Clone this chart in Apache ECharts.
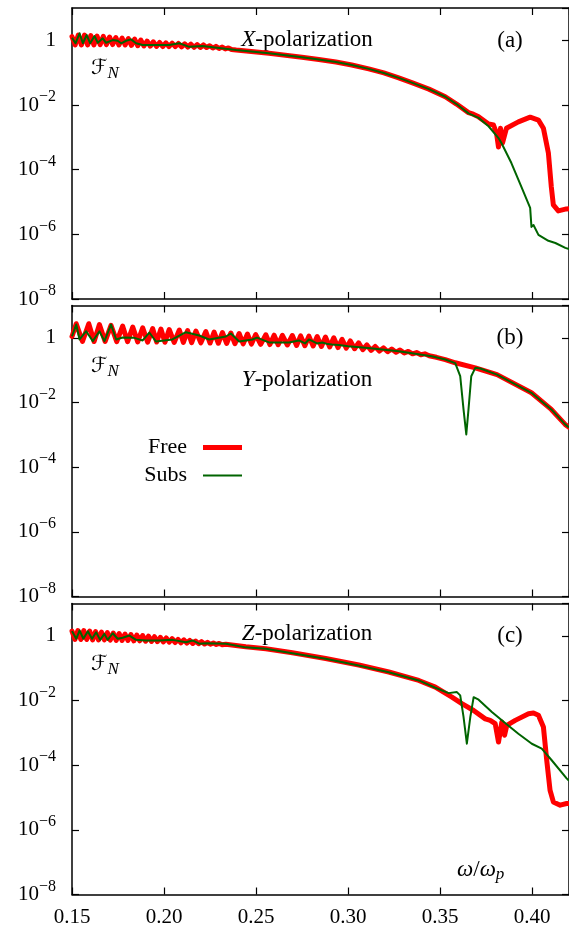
<!DOCTYPE html>
<html><head><meta charset="utf-8">
<script src="https://cdn.jsdelivr.net/npm/echarts@6.0.0/dist/echarts.min.js"></script>
<style>html,body{margin:0;padding:0;background:#fff}#c{width:569px;height:928px}</style>
</head><body><div id="c"></div>
<script>
// ---- tick labels ----
const xTickValues = [0.15, 0.20, 0.25, 0.30, 0.35, 0.40];
const xTickLabels = ['0.15', '0.20', '0.25', '0.30', '0.35', '0.40'];
const yTickValues = [1e-8, 1e-6, 1e-4, 1e-2, 1];
const yTickLabels = ['10^−8', '10^−6', '10^−4', '10^−2', '1'];
const seriesNames = ['Free', 'Subs'];
const panelLetters = ['X', 'Y', 'Z'];
const panelTags = ['(a)', '(b)', '(c)'];

// ---- panel (a) X-polarization ----
const freeA = [[0.1500,1.30],[0.1517,0.72],[0.1534,1.46],[0.1551,0.72],[0.1568,1.46],[0.1585,0.72],[0.1602,1.40],[0.1619,0.72],[0.1636,1.36],[0.1653,0.74],[0.1670,1.33],[0.1687,0.74],[0.1704,1.27],[0.1721,0.74],[0.1738,1.22],[0.1755,0.72],[0.1772,1.18],[0.1789,0.72],[0.1806,1.14],[0.1823,0.70],[0.1840,1.10],[0.1857,0.68],[0.1874,1.02],[0.1891,0.67],[0.1908,0.95],[0.1925,0.66],[0.1942,0.90],[0.1959,0.65],[0.1976,0.86],[0.1993,0.64],[0.2010,0.84],[0.2027,0.64],[0.2044,0.82],[0.2061,0.64],[0.2078,0.80],[0.2095,0.63],[0.2112,0.78],[0.2129,0.62],[0.2146,0.76],[0.2163,0.61],[0.2180,0.74],[0.2197,0.60],[0.2214,0.72],[0.2231,0.60],[0.2248,0.68],[0.2265,0.58],[0.2282,0.65],[0.2299,0.56],[0.2316,0.62],[0.2333,0.54],[0.2350,0.58],[0.2367,0.52],[0.2392,0.50],[0.2570,0.40],[0.2749,0.30],[0.2841,0.255],[0.2934,0.213],[0.3020,0.172],[0.3112,0.131],[0.3194,0.098],[0.3275,0.069],[0.3346,0.049],[0.3439,0.031],[0.3528,0.018],[0.3589,0.0107],[0.3654,0.0058],[0.3680,0.0052],[0.3709,0.0043],[0.3763,0.0026],[0.3790,0.0024],[0.3806,0.00136],[0.3817,0.0005],[0.3828,0.0019],[0.3839,0.00067],[0.3860,0.0019],[0.3925,0.0030],[0.3989,0.0042],[0.4034,0.0034],[0.4061,0.0019],[0.4088,3.3e-4],[0.4104,2.9e-5],[0.4115,8.1e-6],[0.4142,5.3e-6],[0.4186,6.1e-6],[0.4200,6.2e-6]];
const subsA = [[0.1500,1.20],[0.1519,0.81],[0.1541,1.65],[0.1559,0.81],[0.1580,1.46],[0.1599,0.81],[0.1622,1.36],[0.1640,0.84],[0.1667,1.15],[0.1685,0.84],[0.1721,1.02],[0.1748,0.97],[0.1767,0.81],[0.1794,0.97],[0.1821,1.07],[0.1848,0.81],[0.1884,0.72],[0.1956,0.72],[0.2028,0.72],[0.2083,0.81],[0.2137,0.63],[0.2207,0.67],[0.2392,0.50],[0.2570,0.40],[0.2749,0.30],[0.2841,0.255],[0.2934,0.213],[0.3020,0.172],[0.3112,0.131],[0.3194,0.098],[0.3275,0.069],[0.3346,0.049],[0.3439,0.031],[0.3528,0.018],[0.3589,0.0107],[0.3654,0.0055],[0.3709,0.0040],[0.3763,0.0022],[0.3817,9.5e-4],[0.3833,6.7e-4],[0.3887,1.6e-4],[0.3942,2.9e-5],[0.3989,6.6e-6],[0.3996,1.7e-6],[0.4007,1.95e-6],[0.4034,9.6e-7],[0.4088,6.3e-7],[0.4126,5.4e-7],[0.4180,3.8e-7],[0.4200,3.5e-7]];

// ---- panel (b) Y-polarization ----
const freeB = [[0.1500,1.10],[0.1523,2.73],[0.1557,0.77],[0.1591,2.73],[0.1620,0.77],[0.1649,2.58],[0.1680,0.77],[0.1712,2.43],[0.1743,0.76],[0.1775,2.32],[0.1802,0.76],[0.1830,2.16],[0.1857,0.75],[0.1884,2.05],[0.1911,0.74],[0.1938,1.94],[0.1960,0.74],[0.1983,1.87],[0.2005,0.73],[0.2028,1.81],[0.2055,0.72],[0.2083,1.74],[0.2105,0.72],[0.2128,1.68],[0.2150,0.71],[0.2173,1.62],[0.2200,0.70],[0.2227,1.57],[0.2250,0.69],[0.2272,1.51],[0.2295,0.68],[0.2317,1.46],[0.2340,0.67],[0.2363,1.41],[0.2385,0.66],[0.2408,1.36],[0.2430,0.65],[0.2453,1.31],[0.2475,0.64],[0.2498,1.26],[0.2525,0.63],[0.2553,1.24],[0.2575,0.62],[0.2598,1.21],[0.2620,0.61],[0.2643,1.19],[0.2670,0.60],[0.2697,1.18],[0.2720,0.58],[0.2742,1.15],[0.2765,0.57],[0.2787,1.13],[0.2810,0.56],[0.2832,1.10],[0.2855,0.54],[0.2877,1.06],[0.2900,0.52],[0.2922,1.00],[0.2945,0.50],[0.2967,0.90],[0.2990,0.48],[0.3012,0.80],[0.3035,0.46],[0.3057,0.70],[0.3080,0.43],[0.3102,0.60],[0.3125,0.41],[0.3147,0.54],[0.3170,0.39],[0.3192,0.49],[0.3215,0.37],[0.3237,0.45],[0.3260,0.36],[0.3282,0.42],[0.3305,0.34],[0.3327,0.38],[0.3350,0.32],[0.3372,0.35],[0.3395,0.30],[0.3417,0.32],[0.3440,0.28],[0.3480,0.25],[0.3528,0.213],[0.3582,0.169],[0.3691,0.118],[0.3809,0.073],[0.3996,0.020],[0.4104,0.0061],[0.4179,0.0021],[0.4200,0.0017]];
const subsB = [[0.1500,1.12],[0.1523,2.58],[0.1541,0.89],[0.1577,1.60],[0.1613,0.79],[0.1649,1.60],[0.1676,0.79],[0.1712,2.58],[0.1740,0.89],[0.1775,1.02],[0.1839,1.00],[0.1884,0.83],[0.1920,1.46],[0.1956,0.77],[0.2045,0.89],[0.2119,1.49],[0.2191,1.18],[0.2245,0.89],[0.2336,1.10],[0.2363,1.36],[0.2408,0.77],[0.2480,0.89],[0.2505,1.02],[0.2570,0.72],[0.2679,0.72],[0.2733,0.83],[0.2766,0.67],[0.2787,0.89],[0.2831,0.67],[0.2860,0.72],[0.2890,0.64],[0.2912,0.62],[0.2950,0.60],[0.3000,0.55],[0.3095,0.49],[0.3275,0.385],[0.3454,0.27],[0.3528,0.213],[0.3582,0.165],[0.3609,0.065],[0.3627,0.0061],[0.3642,0.00103],[0.3654,0.0061],[0.3669,0.065],[0.3691,0.118],[0.3718,0.113],[0.3809,0.073],[0.3996,0.020],[0.4104,0.0061],[0.4179,0.0021],[0.4200,0.0017]];

// ---- panel (c) Z-polarization ----
const freeC = [[0.1500,1.40],[0.1516,0.77],[0.1532,1.46],[0.1548,0.77],[0.1564,1.46],[0.1580,0.77],[0.1596,1.40],[0.1612,0.75],[0.1628,1.36],[0.1644,0.75],[0.1660,1.30],[0.1676,0.75],[0.1692,1.26],[0.1708,0.74],[0.1724,1.22],[0.1740,0.72],[0.1756,1.18],[0.1772,0.72],[0.1788,1.14],[0.1804,0.72],[0.1820,1.10],[0.1836,0.70],[0.1852,1.06],[0.1868,0.70],[0.1884,1.02],[0.1900,0.68],[0.1916,0.98],[0.1932,0.67],[0.1948,0.94],[0.1964,0.66],[0.1980,0.90],[0.1996,0.65],[0.2012,0.86],[0.2028,0.64],[0.2044,0.82],[0.2060,0.62],[0.2076,0.78],[0.2092,0.61],[0.2108,0.75],[0.2124,0.60],[0.2140,0.72],[0.2156,0.58],[0.2172,0.69],[0.2188,0.57],[0.2204,0.66],[0.2220,0.56],[0.2236,0.63],[0.2252,0.55],[0.2268,0.60],[0.2284,0.54],[0.2300,0.58],[0.2316,0.53],[0.2336,0.55],[0.2444,0.46],[0.2553,0.40],[0.2697,0.30],[0.2878,0.20],[0.3058,0.125],[0.3221,0.076],[0.3384,0.0417],[0.3474,0.0259],[0.3564,0.0127],[0.3618,0.0080],[0.3682,0.0049],[0.3745,0.0027],[0.3772,0.00243],[0.3799,0.00192],[0.3817,5.2e-4],[0.3835,0.00215],[0.3850,8.4e-4],[0.3862,0.0017],[0.3908,0.00243],[0.3980,0.0039],[0.4007,0.0041],[0.4034,0.0035],[0.4061,0.00151],[0.4079,1.42e-4],[0.4097,1.68e-5],[0.4115,7.3e-6],[0.4152,5.8e-6],[0.4187,6.5e-6],[0.4200,6.5e-6]];
const subsC = [[0.1500,1.40],[0.1523,0.81],[0.1541,1.46],[0.1562,0.81],[0.1586,1.39],[0.1609,0.81],[0.1631,1.29],[0.1653,0.75],[0.1676,1.15],[0.1694,0.75],[0.1721,1.20],[0.1748,0.81],[0.1775,0.87],[0.1812,1.02],[0.1848,0.75],[0.1902,0.72],[0.1974,0.72],[0.2046,0.75],[0.2119,0.63],[0.2155,0.72],[0.2191,0.57],[0.2227,0.59],[0.2336,0.57],[0.2444,0.44],[0.2553,0.40],[0.2697,0.29],[0.2878,0.195],[0.3058,0.121],[0.3221,0.075],[0.3384,0.0417],[0.3474,0.0248],[0.3546,0.0169],[0.3591,0.0182],[0.3609,0.0144],[0.3627,0.0031],[0.3645,4.6e-4],[0.3650,4.3e-4],[0.3664,0.0031],[0.3682,0.0127],[0.3709,0.0106],[0.3781,0.0044],[0.3853,0.0020],[0.3925,9.4e-4],[0.3998,4.6e-4],[0.4052,3.25e-4],[0.4106,1.42e-4],[0.4187,3.9e-5],[0.4200,3.3e-5]];

// ---- layout / styles ----
const FONT = '"Liberation Serif", "DejaVu Serif", serif';
const FS = 21;
const gridTops = [8, 305.5, 603.5];
const GH = 291, GL = 72, GW = 497;
const panelData = [[freeA, subsA], [freeB, subsB], [freeC, subsC]];

function xLabel(v) {
  const k = xTickValues.findIndex(t => Math.abs(t - v) < 1e-6);
  return k < 0 ? '' : xTickLabels[k];
}
function yLabel(v) {
  const k = yTickValues.findIndex(t => Math.abs(Math.log10(t) - Math.log10(v)) < 0.01);
  if (k < 0) return '';
  const s = yTickLabels[k];
  if (s.indexOf('^') < 0) return '{b|' + s + '}';
  const parts = s.split('^');
  return '{b|' + parts[0] + '}{s|' + parts[1] + '}';
}
const axLine = { show: true, onZero: false, lineStyle: { color: '#000', width: 1.5 } };
const axTick = { show: true, inside: true, length: 7, lineStyle: { color: '#000', width: 1.2 } };

const grid = [], xAxis = [], yAxis = [], series = [];
gridTops.forEach((t, i) => {
  grid.push({ left: GL, top: t, width: GW, height: GH });
  ['bottom', 'top'].forEach(pos => {
    xAxis.push({
      type: 'value', gridIndex: i, position: pos, min: 0.15, max: 0.42, interval: 0.05,
      axisLine: axLine, axisTick: axTick, splitLine: { show: false },
      axisLabel: {
        show: pos === 'bottom' && i === 2, margin: 12, color: '#000', fontFamily: FONT, fontSize: FS,
        showMaxLabel: false, formatter: xLabel
      }
    });
  });
  ['left', 'right'].forEach(pos => {
    yAxis.push({
      type: 'log', logBase: 10, gridIndex: i, position: pos, min: 1e-8, max: 10, interval: 2,
      axisLine: axLine, axisTick: axTick, splitLine: { show: false },
      axisLabel: {
        show: pos === 'left', margin: 16, showMaxLabel: false, formatter: yLabel,
        rich: {
          b: { fontFamily: FONT, fontSize: FS, lineHeight: 22, color: '#000' },
          s: { fontFamily: FONT, fontSize: 16, lineHeight: 16, padding: [0, 0, 16, 0], color: '#000' }
        }
      }
    });
  });
  const d = panelData[i];
  series.push({
    name: seriesNames[0], type: 'line', xAxisIndex: 2 * i, yAxisIndex: 2 * i, data: d[0],
    symbol: 'none', showSymbol: false, z: 2, clip: true,
    itemStyle: { color: '#ff0000' },
    lineStyle: { color: '#ff0000', width: 5, join: 'round', cap: 'round' }
  });
  series.push({
    name: seriesNames[1], type: 'line', xAxisIndex: 2 * i, yAxisIndex: 2 * i, data: d[1],
    symbol: 'none', showSymbol: false, z: 3, clip: true,
    itemStyle: { color: '#006400' },
    lineStyle: { color: '#006400', width: 2, join: 'round' }
  });
});

function legendFor(name, top, h) {
  return {
    data: [{ name: name, icon: 'rect' }], right: 569 - 242, top: top, orient: 'horizontal', align: 'right',
    itemWidth: 39, itemHeight: h, padding: 0, selectedMode: false,
    textStyle: { fontFamily: FONT, fontSize: 22, color: '#000', padding: [0, 11, 0, 0] }
  };
}

const F_rich = {
  f: { fontFamily: '"DejaVu Serif", "DejaVu Sans"', fontSize: 21, fill: '#000', color: '#000' },
  n: { fontFamily: FONT, fontStyle: 'italic', fontSize: 17, padding: [10, 0, 0, 0], fill: '#000', color: '#000' }
};
const T_rich = {
  i: { fontFamily: FONT, fontStyle: 'italic', fontSize: 23, color: '#000', fill: '#000' },
  n: { fontFamily: FONT, fontSize: 23, color: '#000', fill: '#000' }
};
const G_rich = {
  i: { fontFamily: FONT, fontStyle: 'italic', fontSize: 23, color: '#000', fill: '#000' },
  n: { fontFamily: FONT, fontSize: 23, color: '#000', fill: '#000' },
  p: { fontFamily: FONT, fontStyle: 'italic', fontSize: 17, padding: [10, 0, 0, 0], color: '#000', fill: '#000' }
};
function txt(x, y, text, rich, align) {
  return {
    type: 'text', x: x, y: y, silent: true,
    style: { text: text, rich: rich, fill: '#000', font: FS + 'px ' + FONT, align: align || 'center', verticalAlign: 'middle', textAlign: align || 'center', textVerticalAlign: 'middle' }
  };
}
const titleY = [40, 380, 634];
const tagY = [41, 338, 636];
const fnY = [69, 367, 665];
const graphic = [];
for (let i = 0; i < 3; i++) {
  graphic.push(txt(307, titleY[i], '{i|' + panelLetters[i] + '}{n|-polarization}', T_rich));
  graphic.push(txt(510, tagY[i], '{n|' + panelTags[i] + '}', T_rich));
  graphic.push(txt(91, fnY[i], '{f|ℱ}{n|N}', F_rich, 'left'));
}
graphic.push(txt(457, 870, '{i|ω}{n|/}{i|ω}{p|p}', G_rich, 'left'));

const chart = echarts.init(document.getElementById('c'), null, { renderer: 'canvas' });
chart.setOption({
  animation: false,
  backgroundColor: '#fff',
  grid: grid, xAxis: xAxis, yAxis: yAxis, series: series,
  legend: [legendFor('Free', 436.5, 5), legendFor('Subs', 464.5, 2)],
  graphic: graphic
});
</script>
</body></html>
